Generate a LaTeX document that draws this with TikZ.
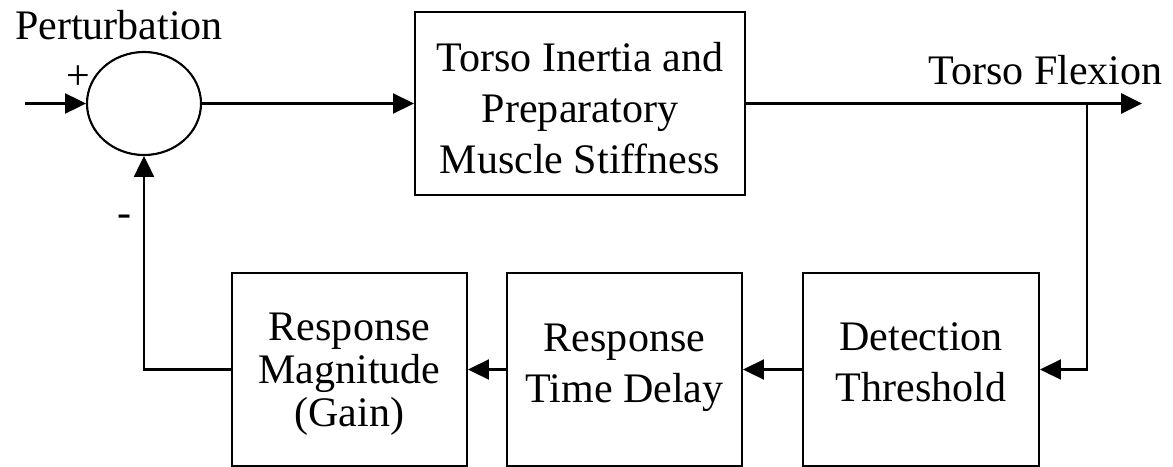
\documentclass[tikz,border=0pt]{standalone}
\usepackage{fontspec}
\setmainfont{Liberation Serif}
\usetikzlibrary{shapes.geometric,arrows.meta}
\tikzset{blk/.style={draw,line width=1.5pt,inner sep=0pt,minimum height=4.825cm},
  sumnode/.style={draw,line width=1.5pt,ellipse,inner sep=0pt,
  minimum width=2.85cm,minimum height=2.575cm},
  txt/.style={inner sep=0pt,align=center,font=\fontsize{29.9}{36.3}\selectfont},
  sig/.style={line width=1.5pt,-{Triangle[length=5.2mm,width=5mm]}}}
\begin{document}
\begin{tikzpicture}[x=0.025cm,y=-0.025cm]
\useasboundingbox (0,0) rectangle (1173,467);
% blocks
\node[sumnode] (sum) at (144,103.5) {};
\node[blk,minimum width=8.25cm,minimum height=4.575cm] (body) at (580,103.5) {};
\node[blk,minimum width=5.9cm] (detect) at (921,369.5) {};
\node[blk,minimum width=5.875cm] (delay) at (624.5,369.5) {};
\node[blk,minimum width=5.875cm] (gain) at (349.5,369.5) {};
% texts
\node[txt] (bodytxt) at (580,107.7) {Torso Inertia and\\Preparatory\\Muscle Stiffness};
\node[txt] (detecttxt) at (921,362.7) {Detection\\Threshold};
\node[txt] (delaytxt) at (624.5,367.7) {Response\\Time Delay};
\node[txt,font=\fontsize{29.9}{30.9}\selectfont] (gaintxt) at (349.5,374.2)
  {Response\\Magnitude\\(Gain)};
\node[txt,anchor=base] (pert) at (119,39) {Perturbation};
\node[txt,anchor=base] (flex) at (1045.5,85) {Torso Flexion};
\node[txt] (plus) at (78,78) {+};
\node[txt] (minus) at (124,221) {-};
% signals
\coordinate (in) at (25,103.5); \coordinate (out) at (1142,103.5);
\coordinate (tap) at (1087,103.5);
\draw[sig] (in) -- (sum.west);
\draw[sig] (sum.east) -- (body.west);
\draw[sig] (body.east) -- (out);
\draw[sig] (tap) |- (detect.east);
\draw[sig] (detect.west) -- (delay.east);
\draw[sig] (delay.west) -- (gain.east);
\draw[sig] (gain.west) -| (sum.south);
\end{tikzpicture}
\end{document}
